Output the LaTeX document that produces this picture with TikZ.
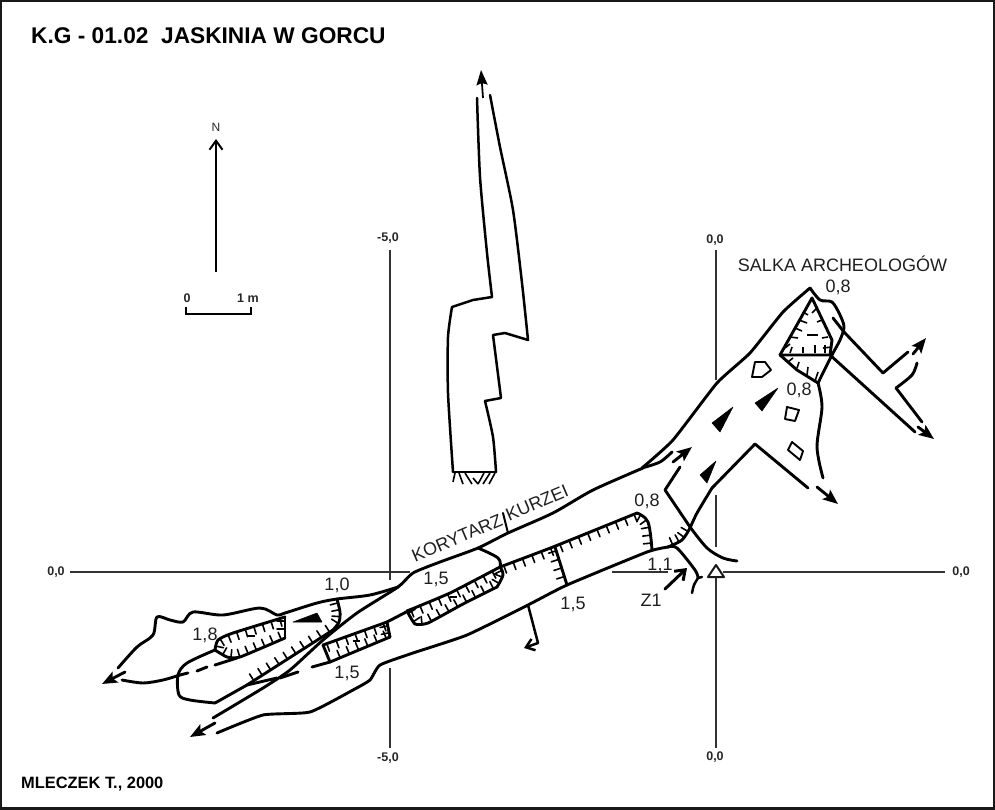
\documentclass[tikz,border=0pt]{standalone}
\usepackage{fontspec}
\setmainfont{Liberation Sans}
\usetikzlibrary{arrows.meta,decorations.markings}
\newcommand{\fs}[1]{\fontsize{#1}{#1}\selectfont}
\tikzset{
  wall/.style={line width=2.9pt,line cap=round,line join=round,black},
  thin wall/.style={line width=2.5pt,line cap=round,line join=round,black},
  axisline/.style={line width=1.7pt,black!80},
  arw/.style={wall,-{Stealth[length=15pt,width=12pt,inset=3pt]}},
  opn/.style={wall,-{Straight Barb[length=8pt,width=12pt]}},
  hach/.style={postaction={decorate,decoration={markings,mark=between positions 4pt and -2pt step #1 with {\draw[line width=1.6pt] (0,0)--(0,-8pt);}}}},
  hach/.default=9pt,
  rock/.style={line width=1.9pt,line join=round,black},
  lab/.style={font=\fs{18},text=black!88,inner sep=0pt},
  axlab/.style={font=\fs{12.5}\bfseries,text=black!85,inner sep=0pt},
  tri/.style={fill=black,draw=black,line width=.5pt,line join=round}
}
\begin{document}
\begin{tikzpicture}[x=1pt,y=-1pt]
\useasboundingbox (0,0) rectangle (995,810);
\draw[line width=2.6pt,black!90] (1.1,1.1) rectangle (993.8,808.7);
% titles
\node[anchor=west,font=\fs{22.7}\bfseries,inner sep=0pt] (title) at (31,36) {K.G - 01.02\ \ JASKINIA W GORCU};
\node[anchor=west,font=\fs{16.4}\bfseries,inner sep=0pt] (author) at (21,784) {MLECZEK T., 2000};
% north + scale
\node[font=\fs{12},text=black!85,inner sep=0pt] (north) at (216,127) {N};
\draw[line width=2pt,-{Straight Barb[length=9pt,width=13pt]}] (216,272)--(216,139);
\node[axlab] (s0) at (187,298) {0};
\node[axlab] (s1) at (248,298) {1 m};
\draw[line width=1.8pt] (186,307)--(186,314)--(251,314)--(251,307);
% axes
\draw[axisline] (70,572)--(410,572);
\draw[axisline] (612,572)--(668,572);
\draw[axisline] (723,572)--(945,572);
\draw[axisline] (390,250)--(390,580);
\draw[axisline] (390,668)--(390,748);
\draw[axisline] (716,250)--(716,380);
\draw[axisline] (716,495)--(716,547);
\draw[axisline] (716,577)--(716,748);
\node[axlab] (a1) at (388,238) {-5,0};
\node[axlab] (a2) at (715,240) {0,0};
\node[axlab] (a3) at (56,572) {0,0};
\node[axlab] (a4) at (961,572) {0,0};
\node[axlab] (a5) at (388,758) {-5,0};
\node[axlab] (a6) at (715,757) {0,0};
% elevation
\draw[thin wall] plot[smooth,tension=.4] coordinates {(477,98)(480,177)(487,253)(492,297)};
\draw[thin wall] (492,297)--(473,300)--(452,307);
\draw[thin wall] plot[smooth,tension=.4] coordinates {(452,307)(448,337)(448,393)(453,472)};
\draw[thin wall] plot[smooth,tension=.4] coordinates {(490,95)(500,147)(513,210)(522,283)(528,340)};
\draw[thin wall] (528,340)--(505,333)--(493,335)--(501,398)--(485,401);
\draw[thin wall] plot[smooth,tension=.4] coordinates {(485,401)(493,437)(496,472)};
\draw[thin wall] (453,472)--(496,472);
\draw[line width=1.6pt] (455,473)--(453,482) (459,473)--(463,484) (465,473)--(472,484) (478,484)--(473,478) (478,484)--(484,473) (483,484)--(490,473) (489,484)--(495,473);
\draw[line width=1.8pt,-{Stealth[length=15pt,width=11pt,inset=2pt]}] (483,98)--(481,70);
% north-east chamber
\draw[wall] plot[smooth,tension=.3] coordinates {(642,468)(673,440)(717,383)(750,353)(783,312)(810,288)};
\draw[wall] plot[smooth,tension=.5] coordinates {(810,288)(820,300)(832,302)(840,315)(844,327)(840,340)(832,355)(818,383)};
\draw[wall] plot[smooth,tension=.5] coordinates {(818,383)(822,407)(817,447)(823,478)};
\draw[arw] (817,487)--(838,504);
\draw[wall] (808,488)--(755,444)--(712,488);
\draw[wall] plot[smooth,tension=.4] coordinates {(712,488)(697,513)(690,528)};
\draw[wall] (833,318)--(844,332)--(883,373)--(908,352);
\draw[arw] (913,354)--(926,338);
\draw[wall] plot[smooth,tension=.5] coordinates {(917,363)(912,375)(896,388)};
\draw[wall] (896,388)--(922,422);
\draw[arw] (918,427)--(934,439);
\draw[wall] (915,432)--(830,355)--(780,355);
% chamber pits
\draw[wall] (812,298)--(780,355);
\draw[wall] (812,298)--(832,340)--(830,355);
\draw[wall] (780,355)--(797,370)--(818,383);
\draw[line width=1.6pt] (803,312)--(808,315) (799,320)--(807,323) (795,328)--(802,331) (790,337)--(798,338) (785,348)--(790,344)
 (817,308)--(812,313) (822,320)--(817,322) (828,337)--(822,338) (832,347)--(823,348)
 (790,353)--(792,347) (803,353)--(803,347) (815,353)--(815,345) (825,353)--(825,345)
 (788,362)--(793,358) (797,368)--(799,362) (807,375)--(808,367) (815,381)--(818,372);
\draw[line width=1.7pt] (807,335)--(818,335);
% blocks
\draw[rock] (755,362)--(765,362)--(771,370)--(762,377)--(752,377)--cycle;
\draw[rock] (787,407)--(799,410)--(795,421)--(785,419)--cycle;
\draw[rock] (792,442)--(803,451)--(800,460)--(788,450)--cycle;
% flow arrows
\fill[tri] (755,403)--(778,388)--(762,411)--cycle;
\fill[tri] (712,423)--(733,407)--(720,432)--cycle;
\fill[tri] (700,475)--(716,461)--(707,483)--cycle;
\fill[tri] (293,622)--(317,613)--(322,622)--cycle;
% main corridor, upper wall
\draw[wall] plot[smooth,tension=.5] coordinates {(642,468)(660,462)(672,452)};
\draw[arw] (673,462)--(692,447);
\draw[wall] plot[smooth,tension=.5] coordinates {(680,467)(665,490)};
\draw[wall] (665,490)--(690,527);
\draw[wall] plot[smooth,tension=.5] coordinates {(690,527)(707,548)(723,558)(737,561)};
\draw[wall] plot[smooth,tension=.4] coordinates {(643,468)(593,490)(553,513)(508,533)(478,548)(440,562)(413,573)(398,587)(357,613)(323,640)(290,670)(263,688)(213,718)};
\draw[thin wall,line width=2pt] (503,513)--(508,533);
% corridor lower wall
\draw[wall] plot[smooth,tension=.3] coordinates {(668,547)(647,552)(567,585)(528,605)(467,635)(413,653)(380,665)(370,680)(353,690)(310,712)(263,715)(217,733)};
\draw[wall,hach=7pt] plot[smooth,tension=.5] coordinates {(690,528)(682,540)(668,547)};
\draw[wall] plot[smooth,tension=.5] coordinates {(668,547)(677,548)(695,570)(698,578)};
\draw[thin wall] (702,577)--(698,578) plot[smooth,tension=.5] coordinates {(698,578)(694,585)(692,593)};
\draw[arw] (215,723)--(190,737);
% middle pits
\draw[wall,hach=10pt] plot[smooth,tension=.3] coordinates {(407,611)(450,593)(500,567)};
\draw[wall,hach=7pt] plot[smooth,tension=.6] coordinates {(500,567)(503,575)(497,587)};
\draw[wall,hach=10pt] plot[smooth,tension=.3] coordinates {(497,587)(463,604)(428,623)(415,624)(407,611)};
\draw[wall] plot[smooth,tension=.6] coordinates {(478,548)(498,558)(500,567)};
\draw[line width=1.7pt] (450,597)--(457,597);
\draw[wall,hach=10pt] plot[smooth,tension=.2] coordinates {(500,567)(553,547)(637,513)};
\draw[wall,hach=8pt] plot[smooth,tension=.6] coordinates {(637,513)(648,522)(652,550)};
\draw[wall,hach=9pt] (555,547)--(567,585);
% south-west pits
\draw[wall] (410,610)--(387,622);
\draw[wall,hach=10pt] (323,645)--(387,622);
\draw[wall,hach=7pt] (387,622)--(390,637);
\draw[wall,hach=10pt] (390,637)--(330,662);
\draw[wall] (330,662)--(323,645);
\draw[line width=1.7pt] (353,641)--(360,641);
\draw[wall] (330,662)--(312,667);
\draw[wall] (298,672)--(280,678);
\draw[wall] (277,678)--(247,685)--(215,703);
% pit 1,8
\draw[wall,hach=9pt] plot[smooth,tension=.4] coordinates {(215,650)(218,640)(233,633)(285,617)};
\draw[wall,hach=8pt] (285,617)--(285,638);
\draw[wall,hach=9pt] plot[smooth,tension=.3] coordinates {(285,638)(240,657)(227,657)(215,650)};
\draw[line width=1.7pt] (247,636)--(255,636);
% pit 1,0
\draw[wall,hach=7pt] plot[smooth,tension=.5] coordinates {(337,599)(340,612)(339,622)(333,630)};
\draw[wall,hach=10pt] (333,630)--(247,685);
% western chamber
\draw[wall] plot[smooth,tension=.5] coordinates {(118,668)(137,647)(153,635)(157,617)(170,620)(183,622)(193,612)(223,615)(260,608)(277,615)(285,613)(317,603)(337,599)(370,595)(398,587)};
\draw[arw] (125,672)--(102,684);
\draw[wall] plot[smooth,tension=.5] coordinates {(122,680)(143,683)(163,680)(180,675)(188,673)};
\draw[wall] (197,671)--(207,667);
\draw[wall] (215,665)--(237,658);
\draw[wall] plot[smooth,tension=.5] coordinates {(215,703)(190,700)(179,695)(178,675)(187,663)(215,650)};
% side exits
\draw[thin wall] (528,605)--(538,643);
\draw[opn,line width=2.5pt] (538,643)--(524,648);
\draw[thin wall,line width=3pt,-{Straight Barb[length=9pt,width=13pt]}] (665,589)--(687,568);
% entrance triangle
\draw[line width=2pt,line join=round,black!90] (716,565)--(708,577)--(724,577)--cycle;
% labels
\node[lab] (salka) at (842.5,264) {SALKA ARCHEOLOGÓW};
\node[lab] (d1) at (838,287) {0,8};
\node[lab] (d2) at (799,390) {0,8};
\node[lab] (d3) at (647,501) {0,8};
\node[lab] (d4) at (436,579) {1,5};
\node[lab,rotate=23] (kor) at (457,538) {KORYTARZ};
\node[lab,rotate=23] (kur) at (537,503) {KURZEI};
\node[lab] (d5) at (573,604) {1,5};
\node[lab] (d6) at (660,565) {1,1};
\node[lab] (z1) at (651,600) {Z1};
\node[lab] (d7) at (337,585) {1,0};
\node[lab] (d8) at (205,635) {1,8};
\node[lab] (d9) at (347,673) {1,5};
\end{tikzpicture}
\end{document}
